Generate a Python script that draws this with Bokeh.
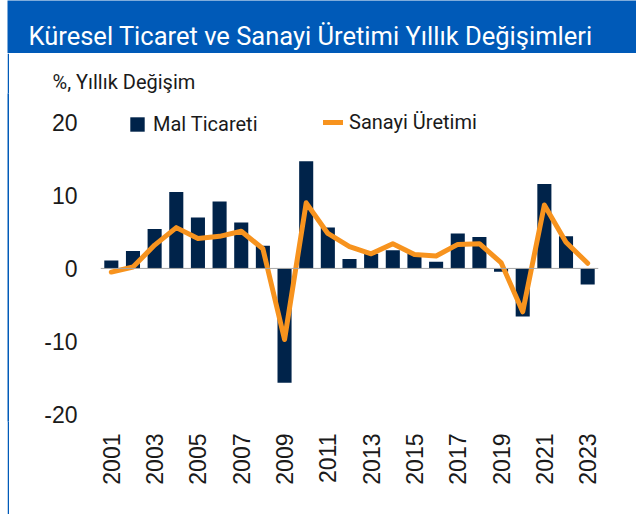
import math
from bokeh.plotting import figure
from bokeh.models import Range1d, FixedTicker, Span, Label, Legend, LegendItem, ColumnDataSource
from bokeh.layouts import column, row
from bokeh.embed import file_html
from bokeh.resources import INLINE

# ---- data ----
years = [2001, 2002, 2003, 2004, 2005, 2006, 2007, 2008, 2009, 2010, 2011, 2012,
         2013, 2014, 2015, 2016, 2017, 2018, 2019, 2020, 2021, 2022, 2023]
mal_ticareti = [1.1, 2.4, 5.4, 10.5, 7.0, 9.2, 6.3, 3.1, -15.7, 14.7, 5.6, 1.3,
                2.0, 2.5, 2.0, 0.9, 4.8, 4.3, -0.45, -6.6, 11.6, 4.4, -2.2]
sanayi_uretimi = [-0.5, 0.2, 3.2, 5.6, 4.1, 4.4, 5.1, 2.7, -9.75, 9.0, 4.8, 3.0,
                  2.0, 3.4, 1.9, 1.7, 3.3, 3.4, 0.8, -5.95, 8.7, 3.6, 0.7]
x_ticks = [2001, 2003, 2005, 2007, 2009, 2011, 2013, 2015, 2017, 2019, 2021, 2023]
y_ticks = [-20, -10, 0, 10, 20]
y_tick_labels = {-20: "-20", -10: "-10", 0: "0", 10: "10", 20: "20"}

title_text = "Küresel Ticaret ve Sanayi Üretimi Yıllık Değişimleri"
unit_text = "%, Yıllık Değişim"
series_names = ["Mal Ticareti", "Sanayi Üretimi"]

BLUE = "#005AB8"
NAVY = "#00234A"
ORANGE = "#F7931E"
TXT = "#1a1a1a"
COND = "Roboto"
SANS = "Liberation Sans"


def block(w, h, color):
    f = figure(width=w, height=h, output_backend="svg", toolbar_location=None,
               x_range=Range1d(0, 1), y_range=Range1d(0, 1), min_border=0,
               x_axis_location=None, y_axis_location=None,
               background_fill_color=color, border_fill_color=color,
               outline_line_color=None)
    f.xgrid.visible = False
    f.ygrid.visible = False
    return f


# ---- title bar ----
tf = block(629, 53, BLUE)
tf.add_layout(Label(x=21, y=18, x_units="screen", y_units="screen", text=title_text,
                    text_color="white", text_font=COND, text_font_size="25.5px",
                    text_baseline="alphabetic"))

# ---- main chart ----
src = ColumnDataSource(dict(x=years, mal=mal_ticareti, san=sanayi_uretimi))

p = figure(width=627, height=461, output_backend="svg", toolbar_location=None,
           x_range=Range1d(2000.5, 2023.5), y_range=Range1d(-21, 24),
           min_border_left=91, min_border_right=38, min_border_top=40,
           min_border_bottom=93, outline_line_color=None,
           background_fill_color="white", border_fill_color="white")
p.xgrid.visible = False
p.ygrid.visible = False

# unit label as the chart's own title, shifted left over the tick labels
p.title.text = unit_text
p.title.align = "left"
p.title.offset = -48
p.title.standoff = 0
p.title.text_font = COND
p.title.text_font_size = "20px"
p.title.text_font_style = "normal"
p.title.text_color = TXT

p.add_layout(Span(location=0, dimension="width", line_color="#a6a6a6", line_width=1))

bars = p.vbar(x="x", top="mal", width=0.65, source=src, fill_color=NAVY, line_color=None)
line = p.line(x="x", y="san", source=src, line_color=ORANGE, line_width=5,
              line_join="round", line_cap="round")

for ax in (p.xaxis[0], p.yaxis[0]):
    ax.axis_line_color = None
    ax.major_tick_line_color = None
    ax.minor_tick_line_color = None
    ax.major_tick_out = 0
    ax.major_tick_in = 0
    ax.major_label_text_font = SANS
    ax.major_label_text_font_size = "23px"
    ax.major_label_text_color = TXT

p.yaxis.ticker = FixedTicker(ticks=y_ticks)
p.yaxis.major_label_overrides = y_tick_labels
p.yaxis.major_label_standoff = 23
p.xaxis.ticker = FixedTicker(ticks=x_ticks)
p.xaxis.major_label_orientation = math.pi / 2
p.xaxis.major_label_standoff = 12

common = dict(orientation="horizontal", padding=0, margin=0, border_line_color=None,
              background_fill_alpha=0, glyph_height=18,
              label_text_font=COND, label_text_font_size="20px", label_text_color=TXT,
              spacing=0)
leg1 = Legend(items=[LegendItem(label=series_names[0], renderers=[bars])],
              location=(28, 285), glyph_width=18, label_standoff=7, **common)
leg2 = Legend(items=[LegendItem(label=series_names[1], renderers=[line])],
              location=(223, 287), glyph_width=20, label_standoff=6, **common)
p.add_layout(leg1)
p.add_layout(leg2)

layout = column(
    row(block(7, 53, "white"), tf),
    row(block(7, 461, "white"), block(2, 461, BLUE), p),
    row(block(7, 2, "white"), block(629, 2, BLUE)),
)
open("out.html", "w").write(file_html(layout, INLINE))
